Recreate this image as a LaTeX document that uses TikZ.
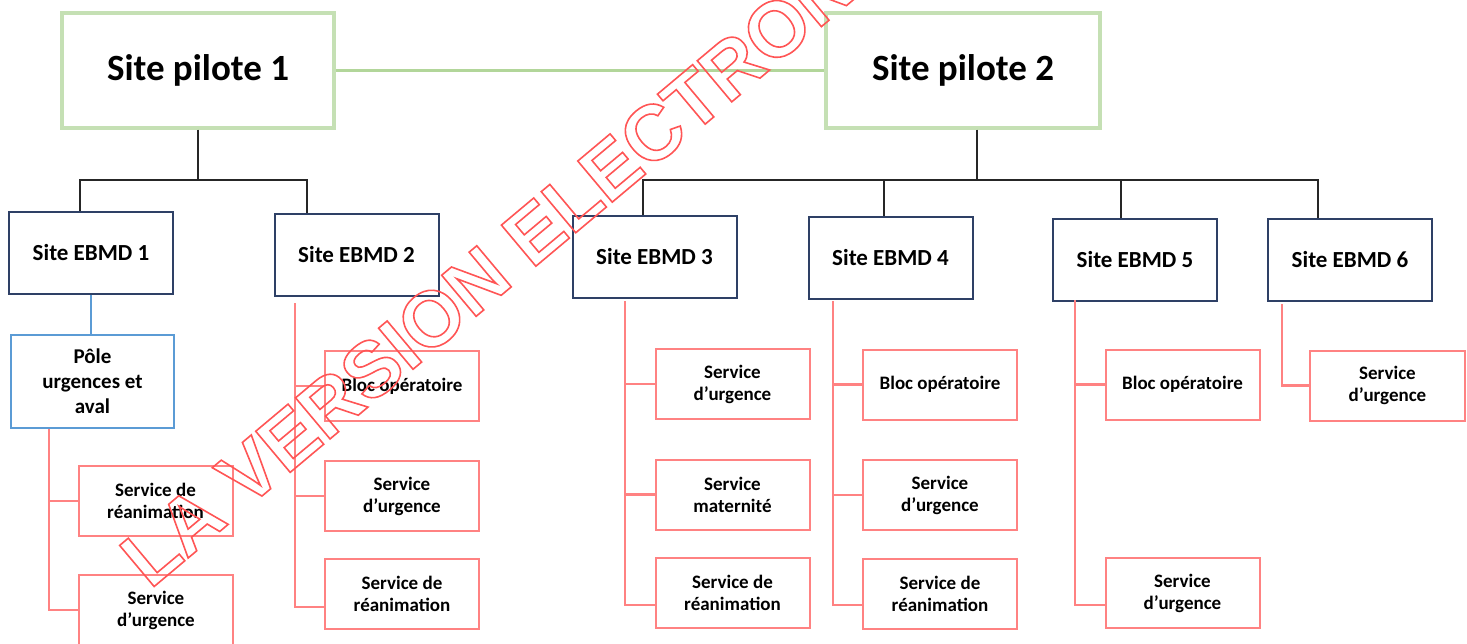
\documentclass[tikz,border=0pt]{standalone}
\usepackage{fontspec}
\setmainfont{Carlito}
\newfontfamily\wmfont{Liberation Sans}
\definecolor{pilotgreen}{RGB}{197,224,180}
\definecolor{linkgreen}{RGB}{178,214,154}
\definecolor{sitenavy}{RGB}{46,64,102}
\definecolor{poleblue}{RGB}{91,155,213}
\definecolor{servred}{RGB}{255,130,130}
\definecolor{wmred}{RGB}{255,85,85}
% stroked (hollow) glyphs through the PDF text render mode
\newcommand\hollowtext[2]{\special{pdf:literal direct 1 Tr #1 w}#2\special{pdf:literal direct 0 Tr}}
\tikzset{
  pilot/.style={draw=pilotgreen, line width=4pt, inner sep=0pt,
    minimum height=115pt, font=\fontsize{37}{44}\selectfont\bfseries},
  site/.style={draw=sitenavy, line width=2pt, inner sep=0pt,
    minimum width=164pt, minimum height=82pt, font=\fontsize{23}{27}\selectfont\bfseries},
  pole/.style={draw=poleblue, line width=2pt, inner sep=0pt, align=center,
    minimum width=163pt, minimum height=93pt, font=\fontsize{21}{25}\selectfont\bfseries},
  serv/.style={draw=servred, line width=2pt, inner sep=0pt, align=center,
    minimum width=154pt, minimum height=70pt, font=\fontsize{19}{22}\selectfont\bfseries},
  blk/.style={draw=black!85, line width=2pt},
  redl/.style={draw=servred, line width=2.2pt},
}
\begin{document}
\begin{tikzpicture}[x=1pt, y=-1pt]
\clip (0,0) rectangle (1467,643);
\fill[white] (0,0) rectangle (1467,643);

% top level
\node[pilot, minimum width=272pt] (p1) at (198,70) {Site pilote 1};
\node[pilot, minimum width=274pt] (p2) at (963,70) {Site pilote 2};
\draw[draw=linkgreen, line width=3pt] (p1.east) -- (p2.west);

% sites
\node[site] (e1) at (91,253)     {Site EBMD 1};
\node[site] (e2) at (356.5,255)  {Site EBMD 2};
\node[site] (e3) at (654.5,256.5){Site EBMD 3};
\node[site] (e4) at (890.5,257.5){Site EBMD 4};
\node[site] (e5) at (1135,259.5) {Site EBMD 5};
\node[site] (e6) at (1350,259.5) {Site EBMD 6};

% bus joints
\coordinate (j1) at (80,180);
\coordinate (j2) at (307,180);
\coordinate (k2) at (977,180);
\coordinate (j3) at (643,180);
\coordinate (j4) at (884,180);
\coordinate (j5) at (1121,180);
\coordinate (j6) at (1318,180);

\draw[blk] (p1.south) -- (p1.south |- j1);
\draw[blk] (j1 |- e1.north) -- (j1) -- (j2) -- (j2 |- e2.north);
\draw[blk] (k2 |- p2.south) -- (k2);
\draw[blk] (j3 |- e3.north) -- (j3) -- (j6) -- (j6 |- e6.north);
\draw[blk] (j4) -- (j4 |- e4.north);
\draw[blk] (j5) -- (j5 |- e5.north);

% pole under site 1
\node[pole] (pl) at (92.5,381.5) {P\^ole\\urgences et\\aval};
\draw[draw=poleblue, line width=2pt] (e1.south) -- (e1.south |- pl.north);

% services
\node[serv] (r11) at (155.5,501) {Service de\\réanimation};
\node[serv] (r12) at (156,610)   {Service\\d’urgence};

\node[serv] (r21) at (402,386) {Bloc opératoire};
\node[serv] (r22) at (402,496) {Service\\d’urgence};
\node[serv] (r23) at (402,594) {Service de\\réanimation};

\node[serv] (r31) at (732.5,384)   {Service\\d’urgence};
\node[serv] (r32) at (732.5,494.5) {Service\\maternité};
\node[serv] (r33) at (732.5,593)   {Service de\\réanimation};

\node[serv] (r41) at (940,384.5) {Bloc opératoire};
\node[serv] (r42) at (940,495)   {Service\\d’urgence};
\node[serv] (r43) at (940,593.5) {Service de\\réanimation};

\node[serv] (r51) at (1182.5,384.5) {Bloc opératoire};
\node[serv] (r52) at (1182.5,593)   {Service\\d’urgence};

\node[serv, minimum width=155pt] (r61) at (1387.5,385.5) {Service\\d’urgence};

% service trunks
\coordinate (t1) at (49,429);   \coordinate (b1) at (49,610);
\coordinate (t2) at (295,303);  \coordinate (b2) at (295,607);
\coordinate (t3) at (625,301);  \coordinate (b3) at (625,605);
\coordinate (t4) at (833,301);  \coordinate (b4) at (833,605);
\coordinate (t5) at (1075,300); \coordinate (b5) at (1075,605);
\coordinate (t6) at (1282,304);

\draw[redl] (t1) -- (b1) -- (b1 -| r12.west);
\draw[redl] (t1 |- r11.west) -- (r11.west);

\draw[redl] (t2) -- (b2) -- (b2 -| r23.west);
\draw[redl] (t2 |- r21.west) -- (r21.west);
\draw[redl] (t2 |- r22.west) -- (r22.west);

\draw[redl] (t3) -- (b3) -- (b3 -| r33.west);
\draw[redl] (t3 |- r31.west) -- (r31.west);
\draw[redl] (t3 |- r32.west) -- (r32.west);

\draw[redl] (t4) -- (b4) -- (b4 -| r43.west);
\draw[redl] (t4 |- r41.west) -- (r41.west);
\draw[redl] (t4 |- r42.west) -- (r42.west);

\draw[redl] (t5) -- (b5) -- (b5 -| r52.west);
\draw[redl] (t5 |- r51.west) -- (r51.west);

\draw[redl] (t6) |- (r61.west);

% stamp across the chart
\node[rotate=40, anchor=base west, inner sep=0pt, text=wmred,
      font=\fontsize{78}{90}\selectfont\wmfont\bfseries] (stamp) at (150,590)
  {\hollowtext{1.6}{LA VERSION ELECTRONIQUE}};
\end{tikzpicture}
\end{document}
